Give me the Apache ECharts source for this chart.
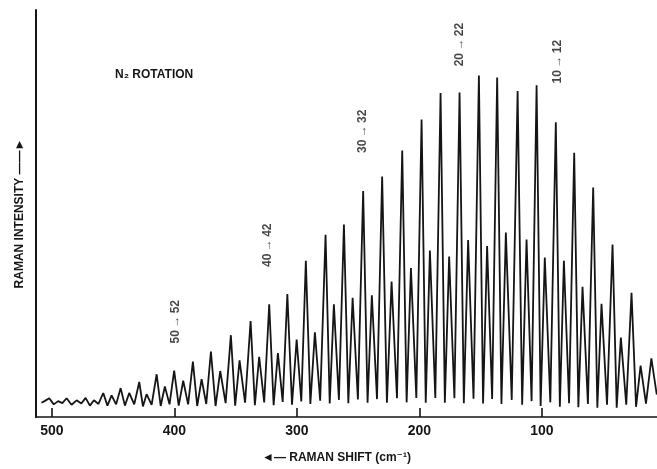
<!DOCTYPE html>
<html>
<head>
<meta charset="utf-8" />
<title>N2 rotation</title>
<script src="https://cdn.jsdelivr.net/npm/echarts@6/dist/echarts.min.js"></script>
<style>
html, body { margin: 0; padding: 0; background: #fff; }
#chart { width: 657px; height: 469px; }
</style>
</head>
<body>
<div id="chart"></div>
<script>
// line tops (shift in cm-1, height in % of the frame)
var peakShift = [
  502.2, 494.9, 488.0, 479.8, 472.5, 465.7, 458.1, 451.3, 443.9, 436.9,
  428.7, 422.7, 414.5, 407.8, 400.2, 392.8, 384.9, 377.8, 370.2, 362.6,
  353.9, 346.8, 337.8, 330.8, 322.6, 315.5, 307.8, 300.2, 292.7, 285.3,
  276.6, 269.8, 261.6, 254.5, 245.9, 238.8, 230.4, 222.7, 214.0, 206.9,
  198.2, 191.4, 182.7, 175.7, 167.2, 160.2, 151.4, 144.7, 136.5, 129.4,
  119.8, 112.5, 104.3, 97.6, 88.6, 82.0, 73.6, 66.8, 58.1, 51.3,
  42.3, 35.5, 26.8, 19.4, 10.6
];
var peakHeight = [
  4.6, 3.9, 4.6, 4.1, 4.7, 4.1, 5.9, 5.3, 7.1, 5.9,
  8.6, 5.6, 10.5, 7.5, 11.4, 8.9, 13.6, 9.3, 16.1, 11.3,
  20.1, 13.9, 23.6, 14.8, 27.7, 15.7, 30.2, 19.0, 38.4, 20.8,
  44.8, 27.7, 47.3, 29.3, 55.5, 29.9, 59.1, 33.3, 65.5, 36.6,
  73.1, 40.9, 79.6, 39.4, 79.7, 43.5, 83.9, 42.0, 83.4, 45.3,
  80.1, 43.6, 81.5, 39.2, 72.4, 38.4, 64.9, 32.0, 56.4, 27.8,
  42.4, 19.5, 30.5, 12.6, 14.4
];

// baseline points: start of trace, the dips between lines, end of trace
var baseShift = [
  508.5, 506.0,
  498.5, 491.5, 484.0, 476.0, 469.0, 462.0, 454.7, 447.6, 440.4, 432.8,
  425.7, 418.6, 411.2, 404.0, 396.5, 388.8, 381.4, 374.0, 366.4, 358.2,
  350.4, 342.3, 334.3, 326.7, 319.0, 311.6, 304.0, 296.4, 289.0, 281.0,
  273.2, 265.7, 258.0, 250.2, 242.3, 234.6, 226.5, 218.3, 210.4, 202.5,
  194.8, 187.0, 179.2, 171.4, 163.7, 155.8, 148.0, 140.6, 133.0, 124.6,
  116.1, 108.4, 101.0, 93.1, 85.3, 77.8, 70.2, 62.4, 54.7, 46.8,
  38.9, 31.1, 23.1, 15.0,
  6.2
];
var baseHeight = [
  3.5, 3.9,
  3.1, 3.4, 3.0, 3.3, 2.8, 3.2, 2.8, 3.1, 2.8, 3.1,
  2.6, 3.0, 2.7, 3.1, 2.8, 3.1, 2.7, 3.2, 2.7, 3.4,
  2.8, 3.5, 2.9, 3.6, 2.9, 3.7, 3.0, 3.8, 3.2, 4.0,
  3.3, 4.2, 3.4, 4.3, 3.5, 4.4, 3.5, 4.6, 3.6, 4.7,
  3.5, 4.7, 3.5, 4.6, 3.4, 4.5, 3.3, 4.4, 3.2, 4.2,
  3.0, 3.9, 2.7, 3.6, 2.5, 3.4, 2.4, 3.2, 2.3, 3.0,
  2.3, 3.0, 2.5, 3.3,
  5.5
];

var tickValues = [100, 200, 300, 400, 500];

// transition notes written over the lines
var noteText = ['50\u2009→\u200952', '40\u2009→\u200942', '30\u2009→\u200932', '20\u2009→\u200922', '10\u2009→\u200912'];
var noteShift = [398.8, 324.0, 246.0, 167.0, 87.0];
var noteHeight = [23.4, 42.2, 70.2, 91.5, 87.3];

var trace = [];
peakShift.forEach(function (s, i) { trace.push([s, peakHeight[i]]); });
baseShift.forEach(function (s, i) { trace.push([s, baseHeight[i]]); });
trace.sort(function (a, b) { return b[0] - a[0]; });

var notes = noteShift.map(function (s, i) { return [s, noteHeight[i], noteText[i]]; });

var font = '"Liberation Sans", "DejaVu Sans", sans-serif';
var ink = '#151515';

var chart = echarts.init(document.getElementById('chart'));
chart.setOption({
  animation: false,
  backgroundColor: '#fff',
  grid: { left: 36, right: 0, top: 10, bottom: 48 },
  xAxis: {
    type: 'value',
    min: 6,
    max: 513,
    inverse: true,
    name: '◄— RAMAN SHIFT (cm⁻¹)',
    nameLocation: 'middle',
    nameGap: 35,
    nameTextStyle: { fontFamily: font, fontWeight: 'bold', fontSize: 12, color: ink, padding: [0, 20, 0, 0] },
    axisLine: { show: true, onZero: false, lineStyle: { color: ink, width: 1.6 } },
    axisTick: { show: true, inside: true, length: 9, customValues: tickValues, lineStyle: { color: ink, width: 1.6 } },
    axisLabel: { customValues: tickValues, margin: 7, fontFamily: font, fontWeight: 'bold', fontSize: 14, color: ink },
    splitLine: { show: false }
  },
  yAxis: {
    type: 'value',
    min: 0,
    max: 100,
    name: 'RAMAN INTENSITY ——►',
    nameLocation: 'middle',
    nameGap: 10,
    nameTextStyle: { fontFamily: font, fontWeight: 'bold', fontSize: 12, color: ink },
    axisLine: { show: true, lineStyle: { color: ink, width: 2 } },
    axisTick: { show: false },
    axisLabel: { show: false },
    splitLine: { show: false }
  },
  graphic: [{
    type: 'text',
    left: 115,
    top: 69,
    style: {
      text: 'N₂ ROTATION',
      font: 'bold 12px ' + font,
      fill: ink
    }
  }],
  series: [{
    type: 'line',
    data: trace,
    showSymbol: false,
    symbol: 'none',
    lineStyle: { color: ink, width: 1.8 },
    z: 3
  }, {
    type: 'scatter',
    data: notes,
    symbolSize: 0,
    silent: true,
    label: {
      show: true,
      position: 'inside',
      rotate: 90,
      formatter: function (p) { return p.data[2]; },
      fontFamily: font,
      fontWeight: 'bold',
      fontSize: 12,
      color: ink
    },
    z: 4
  }]
});
</script>
</body>
</html>
